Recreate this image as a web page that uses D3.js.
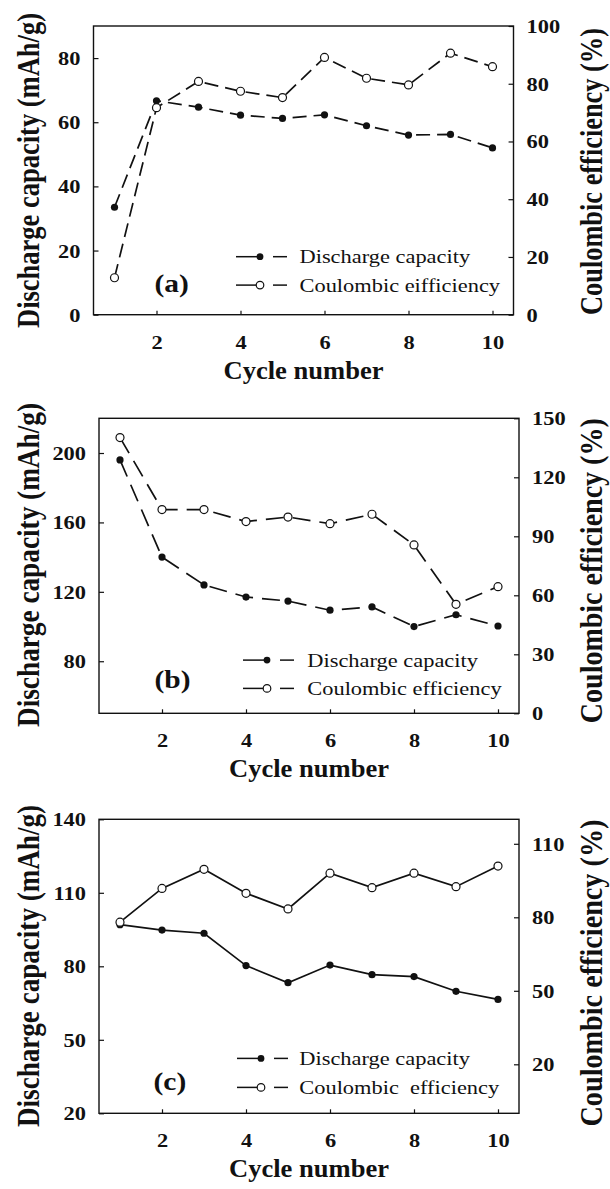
<!DOCTYPE html>
<html>
<head>
<meta charset="utf-8">
<script src="https://cdn.jsdelivr.net/npm/d3@7"></script>
<style>
  body { margin: 0; background: #fff; }
  svg text { font-family: "Liberation Serif", "Times New Roman", serif; fill: #111; white-space: pre; }
</style>
</head>
<body>
<script>
// data
var cycles = [1, 2, 3, 4, 5, 6, 7, 8, 9, 10];
var cycleTicks = [2, 4, 6, 8, 10];

var capA = [33.5, 66.7, 64.7, 62.2, 61.2, 62.3, 58.9, 56.0, 56.2, 52.0];
var ceA  = [12.8, 71.7, 80.8, 77.4, 75.2, 89.1, 81.9, 79.6, 90.6, 85.9];
var capB = [196, 140, 124, 117, 114.7, 109.4, 111.3, 100, 106.8, 100.3];
var ceB  = [140.2, 103.6, 103.6, 97.5, 99.8, 96.4, 101.2, 85.6, 55.4, 64.4];
var capC = [97, 94.8, 93.5, 80.3, 73.3, 80.5, 76.6, 75.8, 69.8, 66.5];
var ceC  = [78, 91.8, 99.6, 89.8, 83.4, 98, 92.1, 98, 92.5, 100.9];

var leftTicksA = [0, 20, 40, 60, 80];
var rightTicksA = [0, 20, 40, 60, 80, 100];
var leftTicksB = [80, 120, 160, 200];
var rightTicksB = [0, 30, 60, 90, 120, 150];
var leftTicksC = [20, 50, 80, 110, 140];
var rightTicksC = [20, 50, 80, 110];

var panelLabels = ["(a)", "(b)", "(c)"];
var legendNames = [
  ["Discharge capacity", "Coulombic eifficiency"],
  ["Discharge capacity", "Coulombic efficiency"],
  ["Discharge capacity", "Coulombic  efficiency"]
];
var leftTitle = "Discharge capacity (mAh/g)";
var rightTitle = "Coulombic efficiency (%)";
var xTitle = "Cycle number";

// layout
var width = 610, height = 1189;
var SX = 1.18; // the figure is a bit wider than tall

var panels = [
  { cap: capA, ce: ceA, lDom: [0, 90], rDom: [0, 100], lTicks: leftTicksA, rTicks: rightTicksA,
    left: 93.5, right: 513.5, top: 26, bottom: 314.7, legX: 236, legTextX: 299.5, legY: [263.3, 291.7],
    labX: 154.5, labY: 292, lTitleY: 170.5, lTitleLen: 315, rTitleY: 171.5, rTitleLen: 287, dash: "14,7" },
  { cap: capB, ce: ceB, lDom: [50, 220], rDom: [0, 150], lTicks: leftTicksB, rTicks: rightTicksB,
    left: 99, right: 519, top: 418.3, bottom: 713.3, legX: 243, legTextX: 307.3, legY: [666.7, 695],
    labX: 154.5, labY: 688, lTitleY: 565, lTitleLen: 324, rTitleY: 570.7, rTitleLen: 305, dash: "18,9" },
  { cap: capC, ce: ceC, lDom: [20, 140], rDom: [0, 120], lTicks: leftTicksC, rTicks: rightTicksC,
    left: 99, right: 519, top: 819.3, bottom: 1113.3, legX: 237, legTextX: 299.3, legY: [1065, 1094],
    labX: 153.5, labY: 1090, lTitleY: 966, lTitleLen: 322, rTitleY: 973, rTitleLen: 307, dash: null }
];

var svg = d3.select("body")
  .append("svg")
  .attr("width", width)
  .attr("height", height);

svg.append("rect").attr("width", width).attr("height", height).attr("fill", "#fff");

panels.forEach(function(p, pi) {
  var g = svg.append("g");

  var xscale = d3.scaleLinear().domain([0.5, 10.5]).range([p.left, p.right]);
  var lscale = d3.scaleLinear().domain(p.lDom).range([p.bottom, p.top]);
  var rscale = d3.scaleLinear().domain(p.rDom).range([p.bottom, p.top]);

  // bottom axis
  var xaxis = d3.axisBottom(xscale).tickValues(cycleTicks).tickSizeInner(-4).tickSizeOuter(0);
  var gx = g.append("g")
    .attr("transform", "translate(0," + p.bottom + ")")
    .call(xaxis);
  gx.selectAll("text")
    .attr("y", 34).attr("dy", 0)
    .attr("transform", "scale(" + SX + ",1)")
    .style("font-size", "19px").style("font-weight", "bold");

  // left axis
  var ly = d3.axisLeft(lscale).tickValues(p.lTicks).tickSizeInner(-5).tickSizeOuter(0);
  var gl = g.append("g")
    .attr("transform", "translate(" + p.left + ",0)")
    .call(ly);
  gl.selectAll("text")
    .attr("x", -13 / SX).attr("dy", "0.34em")
    .attr("transform", "scale(" + SX + ",1)")
    .style("font-size", "19px").style("font-weight", "bold");

  // right axis
  var ry = d3.axisRight(rscale).tickValues(p.rTicks).tickSizeInner(-5).tickSizeOuter(0);
  var gr = g.append("g")
    .attr("transform", "translate(" + p.right + ",0)")
    .call(ry);
  gr.selectAll("text")
    .attr("x", 13 / SX).attr("dy", "0.34em")
    .attr("transform", "scale(" + SX + ",1)")
    .style("font-size", "19px").style("font-weight", "bold");

  g.selectAll(".domain").remove();
  g.selectAll(".tick line").attr("stroke", "#111").attr("stroke-width", 1.2);
  g.selectAll(".tick text").attr("fill", "#111").attr("font-family", null);

  // frame
  g.append("rect")
    .attr("x", p.left).attr("y", p.top)
    .attr("width", p.right - p.left).attr("height", p.bottom - p.top)
    .attr("fill", "none").attr("stroke", "#111").attr("stroke-width", 1.4);

  // lines
  var capLine = d3.line()
    .x(function(d, i) { return xscale(cycles[i]); })
    .y(function(d) { return lscale(d); });
  var ceLine = d3.line()
    .x(function(d, i) { return xscale(cycles[i]); })
    .y(function(d) { return rscale(d); });

  g.append("path")
    .datum(p.cap)
    .attr("d", capLine)
    .attr("fill", "none").attr("stroke", "#111").attr("stroke-width", 1.7)
    .attr("stroke-dasharray", p.dash);
  g.append("path")
    .datum(p.ce)
    .attr("d", ceLine)
    .attr("fill", "none").attr("stroke", "#111").attr("stroke-width", 1.7)
    .attr("stroke-dasharray", p.dash);

  // markers
  g.selectAll(".cap")
    .data(p.cap)
    .enter()
    .append("circle")
    .attr("class", "cap")
    .attr("r", 3.6)
    .attr("cx", function(d, i) { return xscale(cycles[i]); })
    .attr("cy", function(d) { return lscale(d); })
    .attr("fill", "#111");
  g.selectAll(".ce")
    .data(p.ce)
    .enter()
    .append("circle")
    .attr("class", "ce")
    .attr("r", 4)
    .attr("cx", function(d, i) { return xscale(cycles[i]); })
    .attr("cy", function(d) { return rscale(d); })
    .attr("fill", "#fff").attr("stroke", "#111").attr("stroke-width", 1.2);

  // legend
  legendNames[pi].forEach(function(name, k) {
    var by = p.legY[k], my = by - 6.6;
    g.append("line")
      .attr("x1", p.legX).attr("x2", p.legX + 24)
      .attr("y1", my).attr("y2", my)
      .attr("stroke", "#111").attr("stroke-width", 1.5);
    g.append("line")
      .attr("x1", p.legX + 37).attr("x2", p.legX + 51)
      .attr("y1", my).attr("y2", my)
      .attr("stroke", "#111").attr("stroke-width", 1.5);
    g.append("circle")
      .attr("cx", p.legX + 24).attr("cy", my)
      .attr("r", k === 0 ? 3.4 : 3.8)
      .attr("fill", k === 0 ? "#111" : "#fff")
      .attr("stroke", "#111").attr("stroke-width", k === 0 ? 0 : 1.2);
    g.append("text")
      .attr("transform", "translate(" + p.legTextX + "," + by + ") scale(" + SX + ",1)")
      .style("font-size", "19px")
      .text(name);
  });

  // panel label
  g.append("text")
    .attr("transform", "translate(" + p.labX + "," + p.labY + ") scale(" + SX + ",1)")
    .style("font-size", "25px").style("font-weight", "bold")
    .text(panelLabels[pi]);

  // axis titles
  g.append("text")
    .attr("transform", "translate(38.5," + p.lTitleY + ") scale(" + SX + ",1) rotate(-90)")
    .attr("text-anchor", "middle")
    .attr("textLength", p.lTitleLen).attr("lengthAdjust", "spacingAndGlyphs")
    .style("font-size", "27px").style("font-weight", "bold")
    .text(leftTitle);
  g.append("text")
    .attr("transform", "translate(602," + p.rTitleY + ") scale(" + SX + ",1) rotate(-90)")
    .attr("text-anchor", "middle")
    .attr("textLength", p.rTitleLen).attr("lengthAdjust", "spacingAndGlyphs")
    .style("font-size", "27px").style("font-weight", "bold")
    .text(rightTitle);
  g.append("text")
    .attr("transform", "translate(" + ((p.left + p.right) / 2) + "," + (p.bottom + 64) + ")")
    .attr("text-anchor", "middle")
    .attr("textLength", 160).attr("lengthAdjust", "spacingAndGlyphs")
    .style("font-size", "26px").style("font-weight", "bold")
    .text(xTitle);
});
</script>
</body>
</html>
